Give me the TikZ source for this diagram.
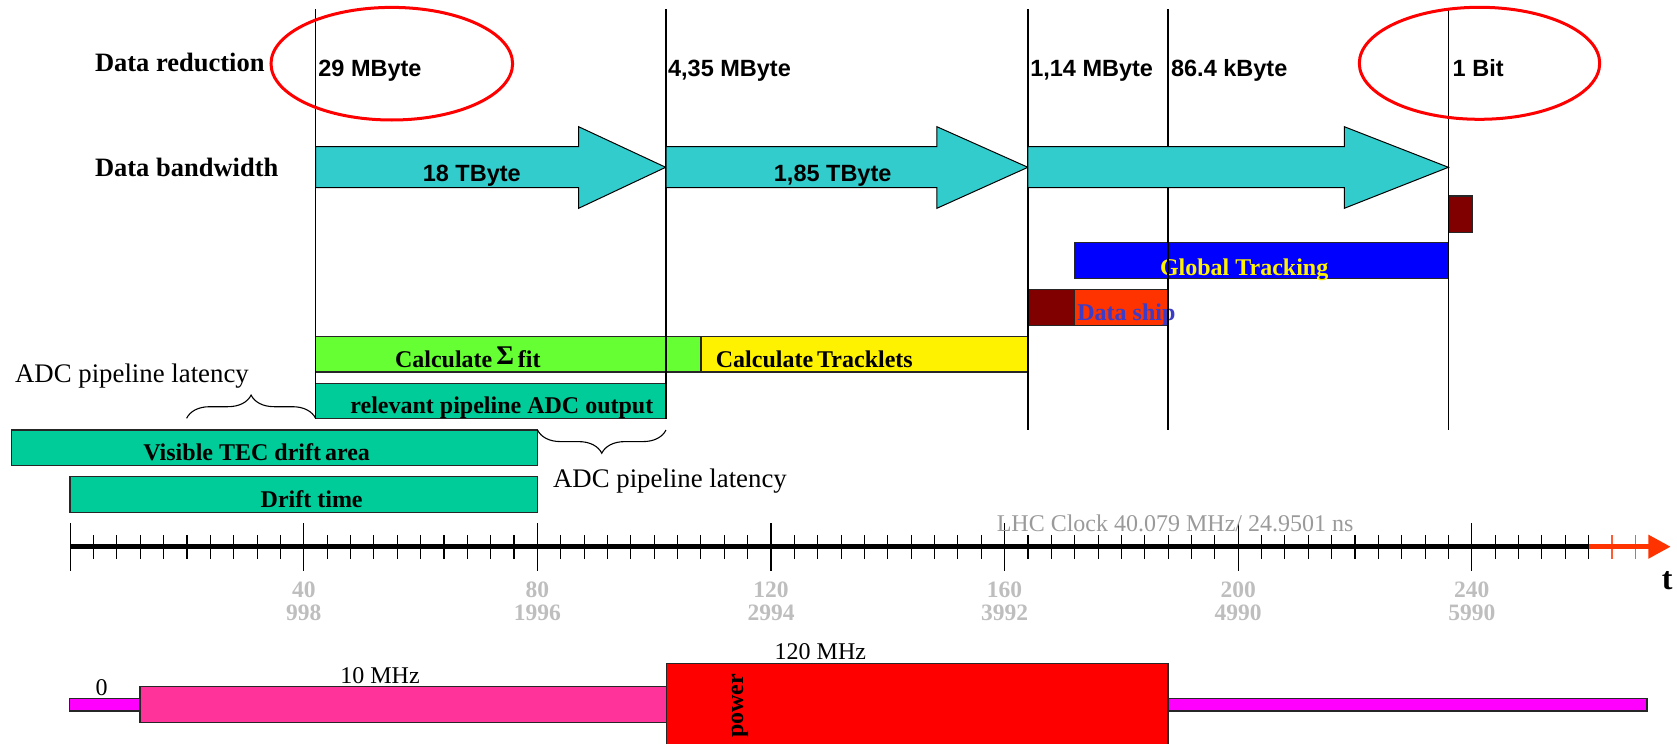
\documentclass[tikz,border=0pt]{standalone}
\usepackage{fontspec}
\setmainfont{Liberation Serif}
\newfontfamily\headsans{Liberation Sans}
\usetikzlibrary{arrows.meta,decorations.pathreplacing,fit}

\definecolor{flowcyan}{HTML}{33CCCC}
\definecolor{fitgreen}{HTML}{66FF33}
\definecolor{adcteal}{HTML}{00CC99}
\definecolor{maroonbox}{HTML}{800000}
\definecolor{shiporange}{HTML}{FF3300}
\definecolor{shiptext}{HTML}{3C3CC8}
\definecolor{lowpink}{HTML}{FF3399}
\definecolor{idlemag}{HTML}{FF00FF}
\definecolor{axisred}{HTML}{FF3300}
\definecolor{clockgray}{HTML}{9A9A9A}
\definecolor{numgray}{HTML}{BEBEBE}

\tikzset{
  bar/.style={draw=black!85, line width=0.7pt, inner sep=0pt, outer sep=0pt},
  barlbl/.style={inner sep=0pt, anchor=base west, font=\fontsize{12}{14}\selectfont\bfseries},
  rowlbl/.style={inner sep=0pt, anchor=base west, font=\fontsize{13.25}{15}\selectfont\bfseries},
  sizelbl/.style={inner sep=0pt, anchor=base west, font=\headsans\fontsize{11.75}{14}\selectfont\bfseries},
  plainlbl/.style={inner sep=0pt, anchor=base west, font=\fontsize{13.4}{15}\selectfont},
  freqlbl/.style={inner sep=0pt, anchor=base west, font=\fontsize{12}{14}\selectfont},
  numlbl/.style={inner sep=0pt, anchor=base, text=numgray, font=\fontsize{11.75}{14}\selectfont\bfseries},
  stageline/.style={line width=0.6pt, black},
  flowarrow/.style={fill=flowcyan, draw=black, line width=0.5pt, line join=miter},
  tickmark/.style={line width=0.55pt, black},
  latency/.style={decorate, decoration={brace, amplitude=11.6pt}, line width=0.55pt},
  hoop/.style={draw=red, line width=1.5pt}
}

\begin{document}
\begin{tikzpicture}[x=0.5pt, y=-0.5pt]
\useasboundingbox (0,0) rectangle (1677,744);
\clip (0,0) rectangle (1677,744);

% ---------- processing bars ----------
\node[bar, fill=maroonbox, fit={(1448.4,196) (1472.6,232.3)}] (trig) {};
\node[bar, fill=blue, fit={(1074.4,242.7) (1448.4,278.7)}] (gtrack) {};
\node[bar, fill=maroonbox, fit={(1027.9,289.3) (1074.4,325.3)}] (shipa) {};
\node[bar, fill=shiporange, fit={(1074.4,289.3) (1168,325.3)}] (shipb) {};
\node[bar, fill=fitgreen, fit={(315.6,336.7) (666,372)}] (sfit) {};
\node[bar, fill=fitgreen, fit={(666,336.7) (701.1,372)}] (sfitb) {};
\node[bar, fill=yellow, fit={(701.1,336.7) (1027.9,372)}] (trkl) {};
\node[bar, fill=adcteal, fit={(315.6,383.3) (666,418.7)}] (adcout) {};
\node[bar, fill=adcteal, fit={(11.6,430) (537.5,465.3)}] (tecarea) {};
\node[bar, fill=adcteal, fit={(70,476.7) (537.5,512.3)}] (drift) {};

\node[barlbl, text=yellow] (gtracktxt) at (1159.6,275) {Global Tracking};
\node[barlbl, text=shiptext] (shiptxt) at (1077,320.7) {Data ship};
\node[barlbl] (sfittxt) at (394.6,367.3) {Calculate\,\raisebox{1.5pt}{\fontsize{13.5}{14}\selectfont Σ}\,fit};
\node[barlbl] (trkltxt) at (715.5,367.3) {Calculate\,Tracklets};
\node[barlbl] (adctxt) at (350,413.3) {relevant pipeline ADC output};
\node[barlbl] (tectxt) at (142.9,460.7) {Visible TEC drift\,area};
\node[barlbl] (drifttxt) at (260.3,507.3) {Drift time};

% ---------- stage boundaries ----------
\coordinate (s1t) at (315.6,9);   \coordinate (s1b) at (315.6,418.7);
\coordinate (s2t) at (666,9);     \coordinate (s2b) at (666,418.7);
\coordinate (s3t) at (1027.9,9);  \coordinate (s3b) at (1027.9,430);
\coordinate (s4t) at (1168,9);    \coordinate (s4b) at (1168,430);
\coordinate (s5t) at (1448.4,9);  \coordinate (s5b) at (1448.4,430);
\foreach \s in {1,...,5} \draw[stageline] (s\s t) -- (s\s b);

% ---------- bandwidth arrows ----------
\draw[flowarrow] (315.6,146.7) -- (578.6,146.7) -- (578.6,126.7) -- (665.7,167.3)
  -- (578.6,208.3) -- (578.6,187.7) -- (315.6,187.7) -- cycle;
\draw[flowarrow] (666,146.7) -- (936.9,146.7) -- (936.9,126.7) -- (1027.9,167.3)
  -- (936.9,208.3) -- (936.9,187.7) -- (666,187.7) -- cycle;
\draw[flowarrow] (1027.9,146.7) -- (1344.3,146.7) -- (1344.3,126.7) -- (1448.4,167.3)
  -- (1344.3,208.3) -- (1344.3,187.7) -- (1027.9,187.7) -- cycle;

% ---------- row titles and sizes ----------
\node[rowlbl] (redtitle) at (94.6,71) {Data reduction};
\node[rowlbl] (bwtitle) at (94.6,176.7) {Data bandwidth};
\node[sizelbl] (sz1) at (318,76.6) {29 MByte};
\node[sizelbl] (sz2) at (667.7,76.6) {4,35 MByte};
\node[sizelbl] (sz3) at (1029.9,76.6) {1,14 MByte};
\node[sizelbl] (sz4) at (1170.7,76.6) {86.4 kByte};
\node[sizelbl] (sz5) at (1452.3,76.6) {1 Bit};
\node[sizelbl, anchor=base] (bw1) at (471.8,181.7) {18 TByte};
\node[sizelbl, anchor=base] (bw2) at (832.7,181.7) {1,85 TByte};

\draw[hoop] (391.8,63.7) ellipse [x radius=120.8, y radius=56.3];
\draw[hoop] (1479.5,63.3) ellipse [x radius=120.2, y radius=56];

% ---------- latency braces ----------
\coordinate (b1a) at (186.6,418.3); \coordinate (b1b) at (315.6,418.3);
\coordinate (b2a) at (666,430);     \coordinate (b2b) at (537.5,430);
\draw[latency] (b1a) -- (b1b);
\draw[latency] (b2a) -- (b2b);
\node[plainlbl] (lat1) at (14.7,382.7) {ADC pipeline latency};
\node[plainlbl] (lat2) at (552.7,487.3) {ADC pipeline latency};

% ---------- time axis ----------
\coordinate (t0) at (70.2,546.7);
\coordinate (t260) at (1589,546.7);
\coordinate (tend) at (1670.7,546.7);
\foreach \u in {0,4,...,260}{
  \pgfmathsetmacro\xx{70.2+5.84*\u}
  \pgfmathtruncatemacro\rr{mod(\u,40)}
  \ifnum\rr=0
    \draw[tickmark] (\xx,523.3) -- (\xx,570.7);
  \else
    \draw[tickmark] (\xx,535) -- (\xx,559.3);
  \fi
}
\foreach \u in {264,268}{
  \pgfmathsetmacro\xx{70.2+5.84*\u}
  \draw[tickmark, axisred!80] (\xx,535) -- (\xx,559.3);
}
\draw[line width=2.65pt] (t0) -- (t260);
\draw[line width=2.65pt, axisred, -{Triangle[length=11.2pt,width=11.3pt]}] (t260) -- (tend);

\node[freqlbl, text=clockgray] (clock) at (996.4,531.7) {LHC Clock 40.079 MHz/ 24.9501 ns};
\node[inner sep=0pt, anchor=base west, font=\fontsize{16}{18}\selectfont\bfseries] (tlbl) at (1661.5,589.3) {t};
\foreach \u/\ns in {40/998,80/1996,120/2994,160/3992,200/4990,240/5990}{
  \pgfmathsetmacro\xx{70.2+5.84*\u}
  \node[numlbl] (bx\u) at (\xx,597.7) {\u};
  \node[numlbl] (ns\u) at (\xx,620) {\ns};
}

% ---------- clock frequency profile ----------
\node[bar, fill=idlemag, fit={(69.5,698.3) (1647,711)}] (idle) {};
\node[bar, fill=lowpink, fit={(140,686.7) (666.3,722.7)}] (slow) {};
\node[bar, fill=red, fit={(666.3,663.3) (1168,770)}] (fast) {};
\node[freqlbl, anchor=base] (f0) at (101.6,695) {0};
\node[freqlbl] (f10) at (340,683.3) {10 MHz};
\node[freqlbl] (f120) at (774.3,659.3) {120 MHz};
\node[inner sep=0pt, rotate=90, font=\fontsize{12}{14}\selectfont\bfseries] (pwr) at (740,706) {power};
\end{tikzpicture}
\end{document}
